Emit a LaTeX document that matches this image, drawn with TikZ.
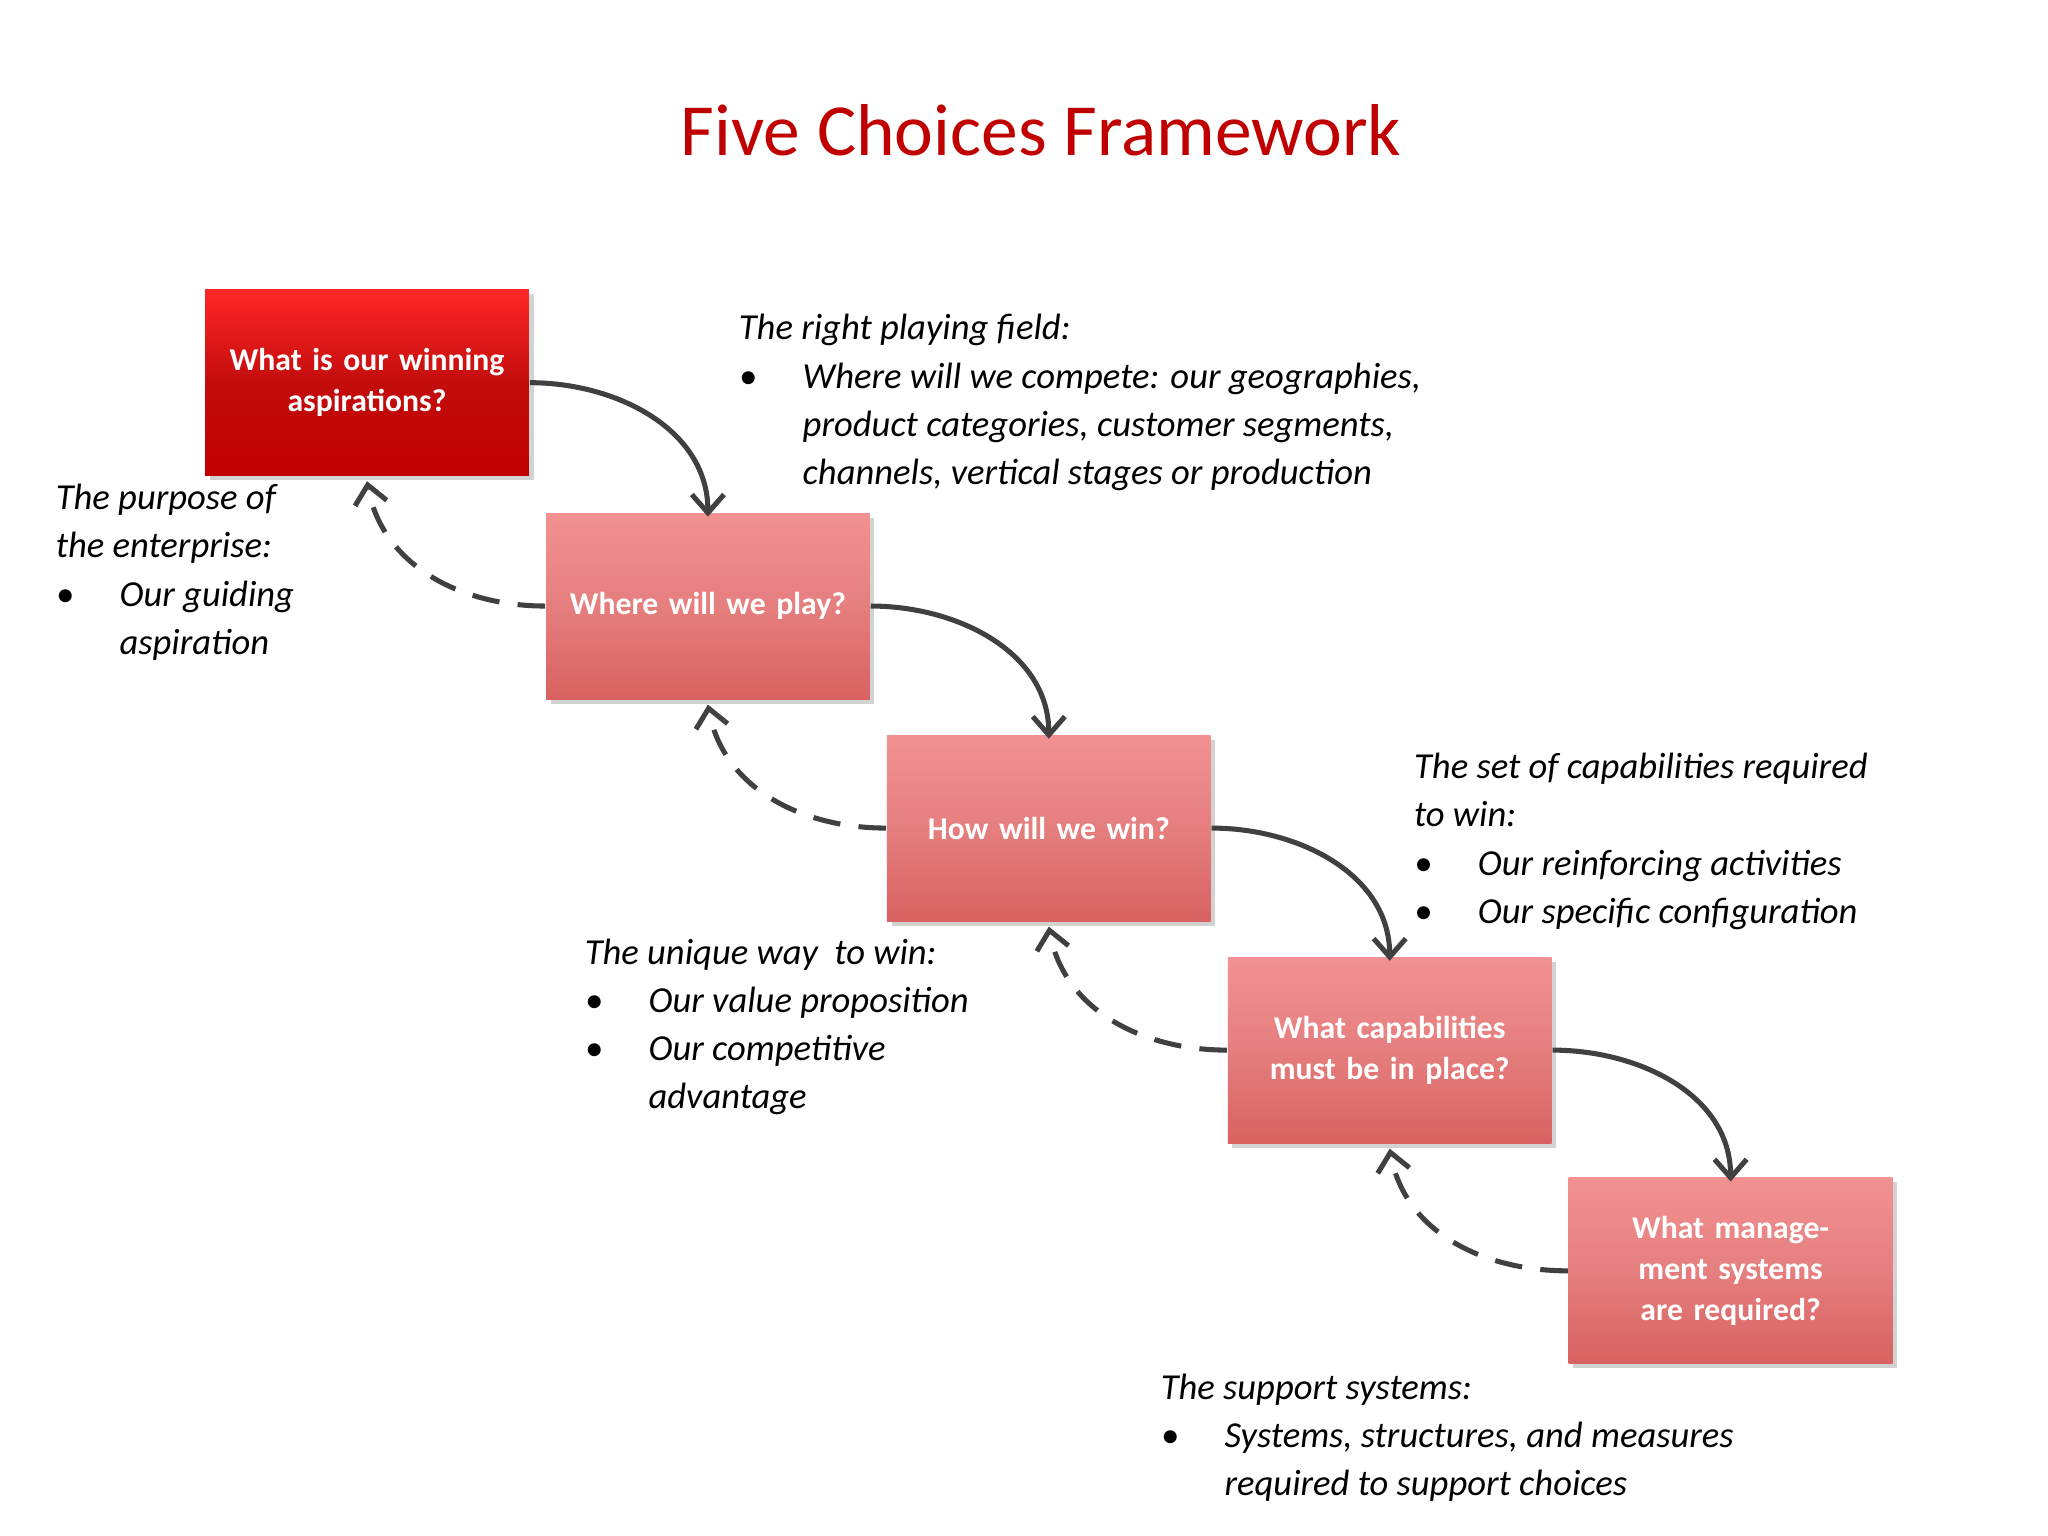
\documentclass[tikz,border=0pt]{standalone}
\usepackage{fontspec}
\setmainfont{Carlito}
\usetikzlibrary{shadows,arrows.meta}
\definecolor{tred}{HTML}{C00000}
\definecolor{arr}{HTML}{404040}
\newcommand{\bi}{\makebox[13.9pt][l]{\textbullet}}
\newcommand{\ii}{\hspace*{13.9pt}}
\tikzset{
 box/.style={minimum width=70.5pt,minimum height=40.5pt,text width=62pt,align=center,
   font=\fontsize{6.9pt}{8.9pt}\selectfont\bfseries,text=white,
   drop shadow={shadow xshift=1pt,shadow yshift=-1pt,opacity=0.35}},
 redbox/.style={box,top color=red!85!white,bottom color=tred,middle color=tred!95!white},
 pinkbox/.style={box,top color=red!40!white!95!black,bottom color=red!55!white!85!black,middle color=red!45!white!90!black},
 note/.style={anchor=north west,align=left,inner sep=0pt,font=\fontsize{7.97pt}{10.5pt}\selectfont\itshape},
 solid arrow/.style={arr,line width=1.1pt,-{Straight Barb[length=4pt,width=7pt]}},
 dash arrow/.style={arr,line width=1.1pt,dash pattern=on 6pt off 4pt,-{Straight Barb[length=4pt,width=7pt]}}
}
\begin{document}
\begin{tikzpicture}[x=0.01cm,y=-0.01cm]
\useasboundingbox[fill=white] (0,0) rectangle (1568,1176);
\node[text=tred,font=\fontsize{16pt}{18pt}\selectfont] (title) at (797,100) {Five Choices Framework};
\node[redbox] (b1) at (281,293) {What is our winning aspirations?};
\node[pinkbox] (b2) at (542,464) {Where will we play?};
\node[pinkbox] (b3) at (803,634) {How will we win?};
\node[pinkbox] (b4) at (1064,804) {What capabilities must be in place?};
\node[pinkbox] (b5) at (1325,973) {What management systems are required?};
\draw[solid arrow] (b1.east) to[out=0,in=90] ([yshift=-1pt]b2.north);
\draw[solid arrow] (b2.east) to[out=0,in=90] ([yshift=-1pt]b3.north);
\draw[solid arrow] (b3.east) to[out=0,in=90] ([yshift=-1pt]b4.north);
\draw[solid arrow] (b4.east) to[out=0,in=90] ([yshift=-1pt]b5.north);
\draw[dash arrow] (b2.west) to[out=180,in=-80] ([yshift=-1pt]b1.south);
\draw[dash arrow] (b3.west) to[out=180,in=-80] ([yshift=-1pt]b2.south);
\draw[dash arrow] (b4.west) to[out=180,in=-80] ([yshift=-1pt]b3.south);
\draw[dash arrow] (b5.west) to[out=180,in=-80] ([yshift=-1pt]b4.south);
\node[note] (nA) at (565,240) {The right playing field:\\ \bi Where will we compete: our geographies,\\ \ii product categories, customer segments,\\ \ii channels, vertical stages or production};
\node[note] (nB) at (42,370) {The purpose of\\ the enterprise:\\ \bi Our guiding\\ \ii aspiration};
\node[note] (nC) at (1082,576) {The set of capabilities required\\ to win:\\ \bi Our reinforcing activities\\ \bi Our specific configuration};
\node[note] (nD) at (447,718) {The unique way\ \ to win:\\ \bi Our value proposition\\ \bi Our competitive\\ \ii advantage};
\node[note] (nE) at (888,1051) {The support systems:\\ \bi Systems, structures, and measures\\ \ii required to support choices};
\end{tikzpicture}
\end{document}
